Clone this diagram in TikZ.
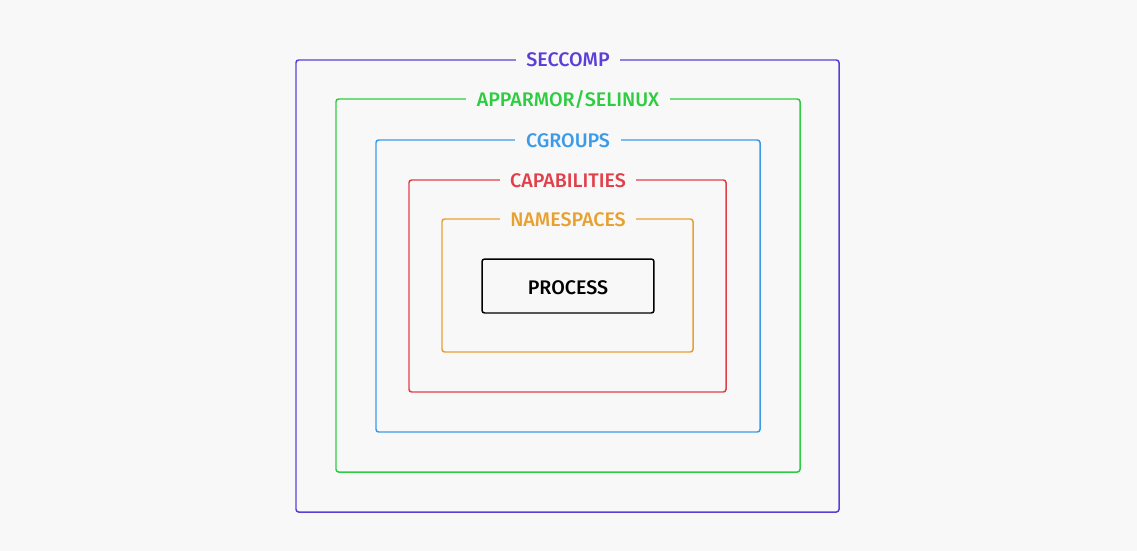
\documentclass[tikz,border=0pt]{standalone}
\usepackage{fontspec}
\setmainfont{Fira Sans}[UprightFont={* Medium}]
\definecolor{bgcol}{HTML}{F8F8F8}
\definecolor{seccol}{HTML}{5B3FD6}
\definecolor{armcol}{HTML}{2ECC40}
\definecolor{cgcol}{HTML}{3B9BE8}
\definecolor{capcol}{HTML}{E0404A}
\definecolor{nscol}{HTML}{E8A030}
\tikzset{
  layer/.style={line width=0.85pt, rounded corners=1.5pt},
  tag/.style={fill=bgcol, inner xsep=6pt, inner ysep=2pt, font=\fontsize{11.2}{13}\selectfont, text depth=0pt}
}
\begin{document}
\begin{tikzpicture}[x=0.02cm, y=-0.02cm]
        \useasboundingbox[fill=bgcol] (0,0) rectangle (1137,551);

        % Livelli di isolamento
        \draw[layer, seccol] (296,60) rectangle (839,512);
        \draw[layer, armcol] (336,99) rectangle (800,472);
        \draw[layer, cgcol] (376,140) rectangle (760,432);
        \draw[layer, capcol] (409,180) rectangle (726,392);
        \draw[layer, nscol] (442,219) rectangle (693,352);

        % Etichette dei livelli
        \node[tag, text=seccol] (seccomp) at (568,60) {SECCOMP};
        \node[tag, text=armcol] (apparmor) at (568,99) {APPARMOR/SELINUX};
        \node[tag, text=cgcol] (cgroups) at (568,141) {CGROUPS};
        \node[tag, text=capcol] (caps) at (568,181) {CAPABILITIES};
        \node[tag, text=nscol] (ns) at (568,220) {NAMESPACES};

        % Processo
        \node[draw, line width=0.85pt, rounded corners=1.5pt, minimum width=3.44cm, minimum height=1.08cm,
              text height=10pt, text depth=0pt, font=\fontsize{11.2}{13}\selectfont] (process) at (568,286) {PROCESS};
    \end{tikzpicture}
\end{document}
